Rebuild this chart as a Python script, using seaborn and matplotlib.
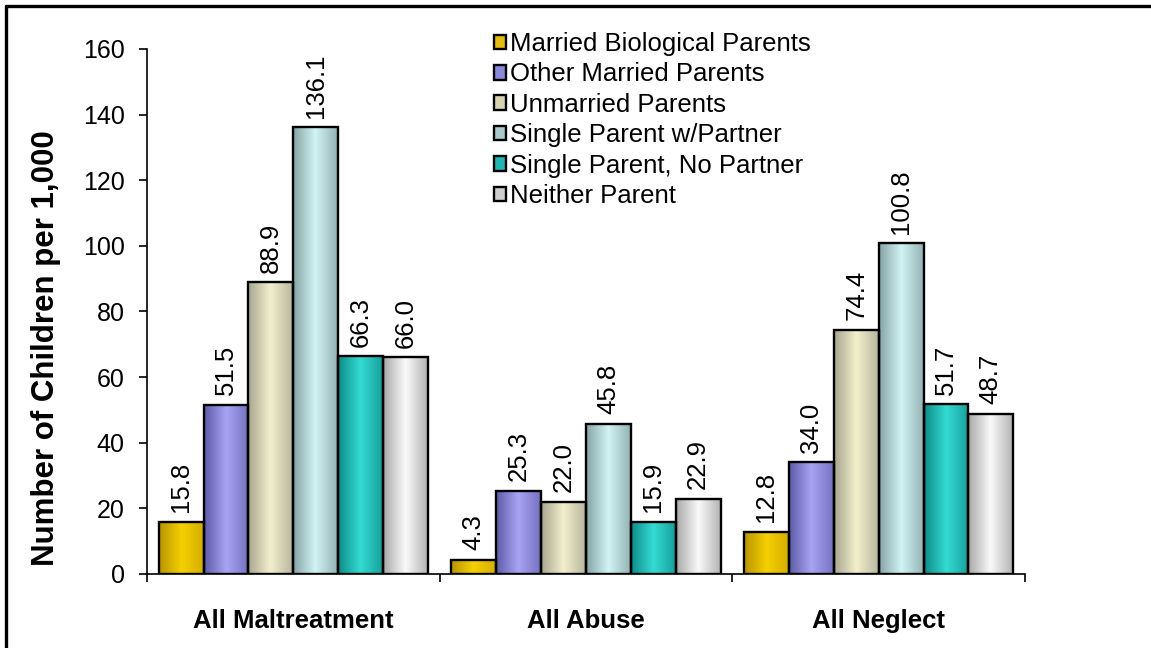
import numpy as np
import pandas as pd
import matplotlib
matplotlib.use("Agg")
import matplotlib.pyplot as plt
import seaborn as sns
from matplotlib.colors import LinearSegmentedColormap
from matplotlib.lines import Line2D

# ------------------------
# data
# ------------------------
groups = ["All Maltreatment", "All Abuse", "All Neglect"]
family_types = [
    "Married Biological Parents",
    "Other Married Parents",
    "Unmarried Parents",
    "Single Parent w/Partner",
    "Single Parent, No Partner",
    "Neither Parent",
]
married_bio = [15.8, 4.3, 12.8]
other_married = [51.5, 25.3, 34.0]
unmarried = [88.9, 22.0, 74.4]
single_partner = [136.1, 45.8, 100.8]
single_no_partner = [66.3, 15.9, 51.7]
neither = [66.0, 22.9, 48.7]

series = [married_bio, other_married, unmarried, single_partner, single_no_partner, neither]
rows = []
for ftype, vals in zip(family_types, series):
    for g, v in zip(groups, vals):
        rows.append({"group": g, "family": ftype, "rate": v})
df = pd.DataFrame(rows)

# base colour + (dark edge, light centre, mid edge) for the shiny excel look
base_colors = ["#E2BC10", "#8A88D8", "#D6D2B0", "#A9C9CB", "#22B4B0", "#CDCDCD"]
shades = [
    ("#B89400", "#F5D000", "#D4AE00"),
    ("#5E5CA8", "#A9A4F4", "#7472C0"),
    ("#A8A690", "#F2F0CC", "#B8B69E"),
    ("#86A4A6", "#D2F4F4", "#94B2B4"),
    ("#0E8C88", "#34DCD4", "#18A09C"),
    ("#A8A8A8", "#FAFAFA", "#B4B4B4"),
]

sns.set_style("ticks")
plt.rcParams["font.family"] = ["Liberation Sans", "DejaVu Sans"]
plt.rcParams.update({"text.color": "black", "axes.labelcolor": "black",
                     "xtick.color": "black", "ytick.color": "black",
                     "axes.edgecolor": "black"})

fig = plt.figure(figsize=(11.51, 6.48), dpi=100)
ax = fig.add_axes([0.1277, 0.1142, 0.7628, 0.8102])

sns.barplot(data=df, x="group", y="rate", hue="family", order=groups,
            hue_order=family_types, palette=base_colors, width=0.92,
            edgecolor="black", linewidth=1.7, saturation=1, ax=ax)

# gradient fill inside every bar
for cont, (c0, c1, c2) in zip(ax.containers, shades):
    cmap = LinearSegmentedColormap.from_list("g", [c0, c1, c2])
    grad = np.linspace(0, 1, 64).reshape(1, -1)
    for bar in cont:
        x0, w, h = bar.get_x(), bar.get_width(), bar.get_height()
        im = ax.imshow(grad, cmap=cmap, aspect="auto", extent=[x0, x0 + w, 0, h],
                       zorder=bar.get_zorder() - 0.05, interpolation="bicubic")
        im.set_clip_path(bar)
        bar.set_facecolor("none")
    ax.bar_label(cont, fmt="%.1f", rotation=90, padding=7, fontsize=18.5,
                 color="black", clip_on=False)

ax.set_xlim(-0.5, 2.5)
ax.set_ylim(0, 160)
ax.set_yticks(range(0, 161, 20))
ax.tick_params(axis="y", labelsize=18, length=6, width=1.2, direction="out", pad=10)
ax.set_xticks([0, 1, 2])
ax.set_xticklabels(groups, fontsize=18.5, fontweight="bold")
ax.tick_params(axis="x", length=0, pad=25)
ax.set_xticks([-0.5, 0.5, 1.5, 2.5], minor=True)
ax.tick_params(axis="x", which="minor", length=6, width=1.2, direction="out")
ax.set_xlabel("")
ax.set_ylabel("Number of Children per 1,000", fontsize=22.5, fontweight="bold")
ax.yaxis.set_label_coords(-0.098, 0.43)
sns.despine(ax=ax)
ax.spines["left"].set_linewidth(1.2)
ax.spines["bottom"].set_linewidth(1.2)

handles, labels = ax.get_legend_handles_labels()
for hnd, col in zip(handles, base_colors):
    hnd.set_facecolor(col)
    hnd.set_edgecolor("black")
ax.legend(handles, labels, loc="upper left", bbox_to_anchor=(0.383, 1.052), frameon=False,
          fontsize=18.5, handlelength=0.5, handleheight=0.5, handletextpad=0.15,
          labelspacing=0.25, borderaxespad=0)

# frame lines of the original picture (top and left only)
fig.add_artist(Line2D([6 / 1151, 1.0], [1 - 6 / 648, 1 - 6 / 648], color="black", lw=2.4))
fig.add_artist(Line2D([6 / 1151, 6 / 1151], [0, 1 - 6 / 648], color="black", lw=2.4))

fig.savefig("out.png", dpi=100, facecolor="white")
